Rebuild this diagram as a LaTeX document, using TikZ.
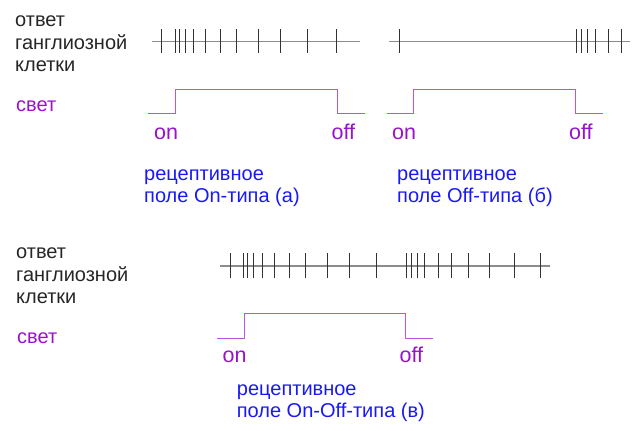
\documentclass[tikz,border=0pt]{standalone}
\usepackage{fontspec}
\setmainfont{Liberation Sans}
\usepackage{tikz}
\usetikzlibrary{positioning}

\definecolor{lbl}{RGB}{153,17,204}
\definecolor{trc}{RGB}{187,85,221}
\definecolor{rfc}{RGB}{25,25,245}

\begin{document}
\begin{tikzpicture}[x=1pt, y=-1pt,
  txt/.style={anchor=base west, inner sep=0pt, font=\fontsize{20}{22.5}\selectfont},
  resp/.style={txt, align=left, text=black!85},
  svet/.style={txt, text=lbl},
  onoff/.style={anchor=base west, inner sep=0pt, text=lbl, font=\fontsize{21.5}{24}\selectfont},
  rf/.style={txt, align=left, text=rfc},
  base/.style={draw=black!45, line width=1.2pt},
  spk/.style={draw=black!80, line width=1pt},
  light/.style={draw=trc, line width=1pt}]
  \useasboundingbox (0,0) rectangle (638,431);

  % top row: labels (base = last line)
  \node[resp] (resp1) at (15,71.7) {ответ\\ганглиозной\\клетки};
  \node[svet] (svet1) at (16,111) {свет};

  % spike trains, On and Off
  \draw[base] (151.7,41.7) -- (360,41.7);
  \foreach \x in {161.7,175,179.3,185,193.3,205,220,236.7,258.3,280,307.7,336}
    \draw[spk] (\x,29.3) -- (\x,53.3);
  \draw[base] (389.3,41.7) -- (630,41.7);
  \foreach \x in {399.3,576.7,581,587.3,595,608.3,621}
    \draw[spk] (\x,29.3) -- (\x,53.3);

  % light stimulus
  \draw[light] (148.3,113.7) -- (175.7,113.7) -- (175.7,89.3) -- (337.3,89.3) -- (337.3,113.7) -- (365,113.7);
  \draw[light] (386.7,113.7) -- (413.3,113.7) -- (413.3,89.3) -- (575,89.3) -- (575,113.7) -- (602.7,113.7);

  \node[onoff] (on1) at (154,139) {on};
  \node[onoff] (off1) at (331.5,139) {off};
  \node[onoff] (on2) at (392,139) {on};
  \node[onoff] (off2) at (569,139) {off};

  \node[rf] (rfa) at (144,202.5) {рецептивное\\поле On-типа (а)};
  \node[rf] (rfb) at (397,202.5) {рецептивное\\поле Off-типа (б)};

  % bottom row: On-Off
  \node[resp] (resp2) at (16,303.5) {ответ\\ганглиозной\\клетки};
  \node[svet] (svet2) at (17,343) {свет};

  \draw[base] (220,266) -- (550,266);
  \foreach \x in {230,243.3,247.7,253.3,262.3,274,289,305.7,327.3,349,376.7,406.7,411,417.3,424.3,438.3,451.7,468.3,489.3,514.3,540}
    \draw[spk] (\x,253.3) -- (\x,277.7);

  \draw[light] (217.3,338.3) -- (244.3,338.3) -- (244.3,313.3) -- (405.7,313.3) -- (405.7,338.3) -- (433.3,338.3);

  \node[onoff] (on3) at (222.5,362.7) {on};
  \node[onoff] (off3) at (399.5,362.7) {off};

  \node[rf] (rfv) at (236.7,417.5) {рецептивное\\поле On-Off-типа (в)};
\end{tikzpicture}
\end{document}
